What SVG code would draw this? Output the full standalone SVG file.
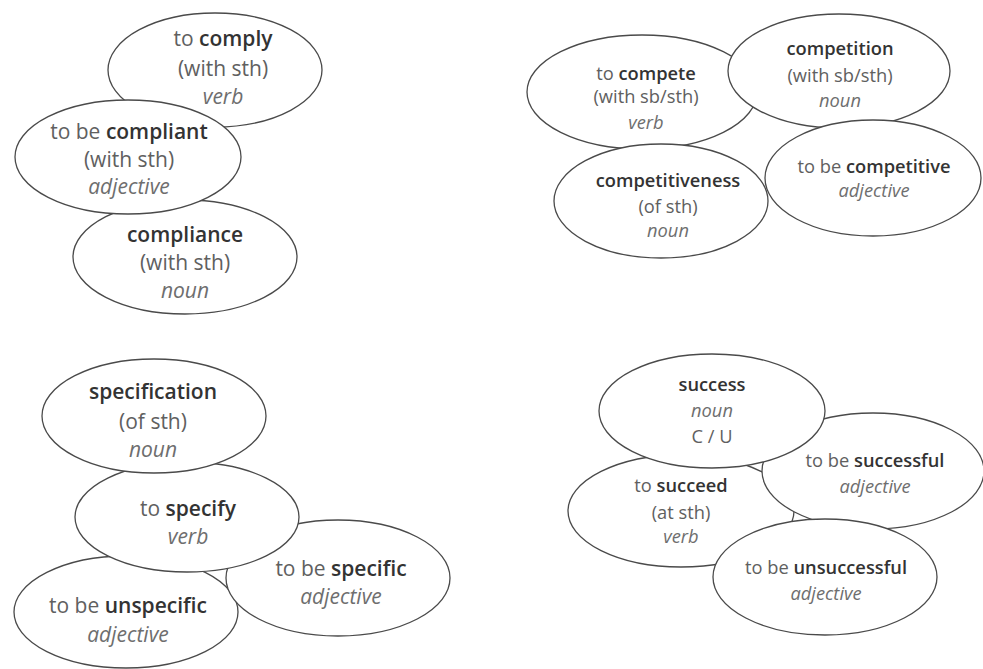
<svg xmlns="http://www.w3.org/2000/svg" width="983" height="669" viewBox="0 0 983 669">
<style>
  .bg { fill: #ffffff; }
  ellipse { fill: #ffffff; stroke: #4a4a4a; stroke-width: 1.3; }
  text { font-family: "Open Sans", "Lato", sans-serif; fill: #606060; text-anchor: middle; }
  .a text { font-size: 21px; }
  .b text { font-size: 18.3px; }
  .bd { font-weight: 600; fill: #333333; }
  .it { font-style: italic; fill: #6e6e6e; }
</style>
<rect class="bg" x="0" y="0" width="983" height="669"/>
<g id="connectors"/>

<!-- Group 1 -->
<g class="a">
  <g id="comply">
    <ellipse cx="215" cy="70" rx="107" ry="57"/>
    <text x="223" y="46">to <tspan class="bd">comply</tspan></text>
    <text x="223" y="76">(with sth)</text>
    <text x="223" y="104" class="it">verb</text>
  </g>
  <g id="compliance">
    <ellipse cx="185" cy="257" rx="112" ry="57"/>
    <text x="185" y="242" class="bd">compliance</text>
    <text x="185" y="270">(with sth)</text>
    <text x="185" y="298" class="it">noun</text>
  </g>
  <g id="compliant">
    <ellipse cx="128" cy="157" rx="113" ry="57"/>
    <text x="129" y="139">to be <tspan class="bd">compliant</tspan></text>
    <text x="129" y="167">(with sth)</text>
    <text x="129" y="194" class="it">adjective</text>
  </g>
</g>

<!-- Group 2 -->
<g class="b">
  <g id="compete">
    <ellipse cx="642" cy="92" rx="115" ry="57"/>
    <text x="646" y="80">to <tspan class="bd">compete</tspan></text>
    <text x="646" y="103">(with sb/sth)</text>
    <text x="646" y="129" class="it">verb</text>
  </g>
  <g id="competition">
    <ellipse cx="839" cy="71" rx="111" ry="57"/>
    <text x="840" y="55" class="bd">competition</text>
    <text x="840" y="82">(with sb/sth)</text>
    <text x="840" y="107" class="it">noun</text>
  </g>
  <g id="competitive">
    <ellipse cx="873" cy="178" rx="108" ry="58"/>
    <text x="874" y="173">to be <tspan class="bd">competitive</tspan></text>
    <text x="874" y="197" class="it">adjective</text>
  </g>
  <g id="competitiveness">
    <ellipse cx="661" cy="201" rx="107" ry="57"/>
    <text x="668" y="187" class="bd">competitiveness</text>
    <text x="668" y="213">(of sth)</text>
    <text x="668" y="237" class="it">noun</text>
  </g>
</g>

<!-- Group 3 -->
<g class="a">
  <g id="unspecific">
    <ellipse cx="126" cy="612" rx="112" ry="56"/>
    <text x="128" y="613">to be <tspan class="bd">unspecific</tspan></text>
    <text x="128" y="642" class="it">adjective</text>
  </g>
  <g id="specific">
    <ellipse cx="338" cy="578" rx="112" ry="58"/>
    <text x="341" y="576">to be <tspan class="bd">specific</tspan></text>
    <text x="341" y="604" class="it">adjective</text>
  </g>
  <g id="specify">
    <ellipse cx="187" cy="517" rx="112" ry="55"/>
    <text x="188" y="516">to <tspan class="bd">specify</tspan></text>
    <text x="188" y="544" class="it">verb</text>
  </g>
  <g id="specification">
    <ellipse cx="154" cy="416" rx="112" ry="57"/>
    <text x="153" y="399" class="bd">specification</text>
    <text x="153" y="429">(of sth)</text>
    <text x="153" y="457" class="it">noun</text>
  </g>
</g>

<!-- Group 4 -->
<g class="b">
  <g id="succeed">
    <ellipse cx="681" cy="511" rx="113" ry="56"/>
    <text x="681" y="492">to <tspan class="bd">succeed</tspan></text>
    <text x="681" y="519">(at sth)</text>
    <text x="681" y="543" class="it">verb</text>
  </g>
  <g id="successful">
    <ellipse cx="873" cy="471" rx="111" ry="58"/>
    <text x="875" y="467">to be <tspan class="bd">successful</tspan></text>
    <text x="875" y="493" class="it">adjective</text>
  </g>
  <g id="unsuccessful">
    <ellipse cx="825" cy="577" rx="112" ry="58"/>
    <text x="826" y="574">to be <tspan class="bd">unsuccessful</tspan></text>
    <text x="826" y="600" class="it">adjective</text>
  </g>
  <g id="success">
    <ellipse cx="712" cy="411" rx="113" ry="57"/>
    <text x="712" y="391" class="bd">success</text>
    <text x="712" y="417" class="it">noun</text>
    <text x="712" y="443">C / U</text>
  </g>
</g>
</svg>
